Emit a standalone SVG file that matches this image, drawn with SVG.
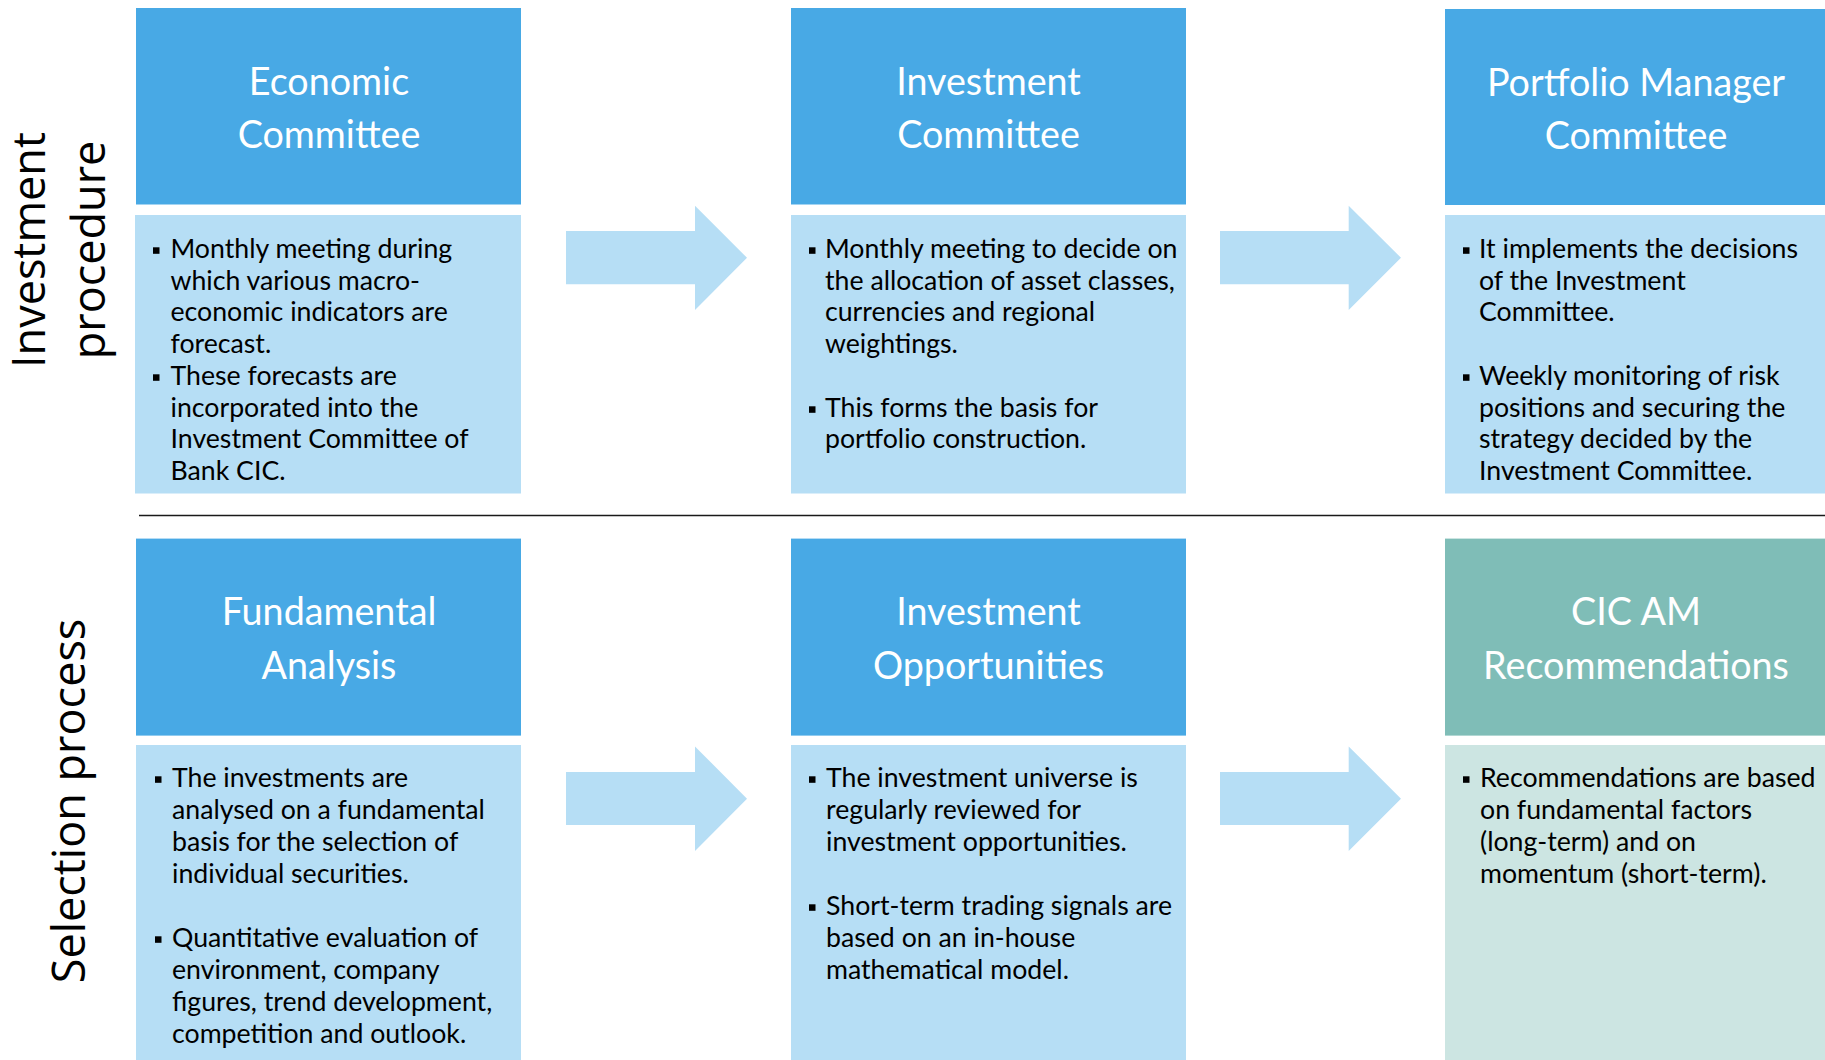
<svg xmlns="http://www.w3.org/2000/svg" width="1825" height="1060" viewBox="0 0 1825 1060">
<style>
.hdr{fill:#48A9E5}
.hdr2{fill:#7FBDB7}
.body{fill:#B6DEF5}
.body2{fill:#CCE5E2}
.ht{font-family:Lato,"Open Sans","Liberation Sans",sans-serif;font-size:37.7px;fill:#fff;text-anchor:middle}
.bt{font-family:Lato,"Open Sans","Liberation Sans",sans-serif;font-size:26.7px;fill:#000}
.vt{font-family:"Open Sans","Liberation Sans",sans-serif;font-size:45px;fill:#000;text-anchor:middle}
.arrow{fill:#B6DEF5}
.bul{fill:#000}
</style>
<rect width="1825" height="1060" fill="#fff"/>

<g id="label-investment-procedure">
<text class="vt" transform="translate(45,250) rotate(-90)">Investment</text>
<text class="vt" transform="translate(105,250) rotate(-90)">procedure</text>
</g>
<g id="label-selection-process">
<text class="vt" transform="translate(85,801) rotate(-90)">Selection process</text>
</g>

<line id="separator" x1="139" y1="515.5" x2="1825" y2="515.5" stroke="#1a1a1a" stroke-width="1.6"/>

<g id="connectors">
<polygon class="arrow" points="566,231 695,231 695,205.7 747,257.8 695,310 695,284.3 566,284.3"/>
<polygon class="arrow" points="1220,231 1348.7,231 1348.7,205.7 1401,257.8 1348.7,310 1348.7,284.3 1220,284.3"/>
<polygon class="arrow" points="566,772 695,772 695,746.4 747,798.7 695,851 695,825 566,825"/>
<polygon class="arrow" points="1220,772 1348.7,772 1348.7,746.4 1401,798.7 1348.7,851 1348.7,825 1220,825"/>
</g>

<g id="economic-committee">
<rect class="hdr" x="136" y="8" width="385" height="196.5"/>
<rect class="body" x="135" y="215" width="386" height="278.5"/>
<text class="ht"><tspan x="329" y="94.5">Economic</tspan><tspan x="329" y="148">Committee</tspan></text>
<rect class="bul" x="153" y="247.3" width="6.5" height="6.5"/>
<rect class="bul" x="153" y="374.3" width="6.5" height="6.5"/>
<text class="bt">
<tspan x="170.5" y="257.8">Monthly meeting during</tspan>
<tspan x="170.5" y="289.5">which various macro-</tspan>
<tspan x="170.5" y="321.3">economic indicators are</tspan>
<tspan x="170.5" y="353">forecast.</tspan>
<tspan x="170.5" y="384.8">These forecasts are</tspan>
<tspan x="170.5" y="416.5">incorporated into the</tspan>
<tspan x="170.5" y="448.3">Investment Committee of</tspan>
<tspan x="170.5" y="480">Bank CIC.</tspan>
</text>
</g>

<g id="investment-committee">
<rect class="hdr" x="791" y="8" width="395" height="196.5"/>
<rect class="body" x="791" y="215" width="395" height="278.5"/>
<text class="ht"><tspan x="988.5" y="94.5">Investment</tspan><tspan x="988.5" y="148">Committee</tspan></text>
<rect class="bul" x="809" y="247.3" width="6.5" height="6.5"/>
<rect class="bul" x="809" y="406.3" width="6.5" height="6.5"/>
<text class="bt">
<tspan x="825" y="257.8">Monthly meeting to decide on</tspan>
<tspan x="825" y="289.5">the allocation of asset classes,</tspan>
<tspan x="825" y="321.3">currencies and regional</tspan>
<tspan x="825" y="353">weightings.</tspan>
<tspan x="825" y="416.5">This forms the basis for</tspan>
<tspan x="825" y="448.3">portfolio construction.</tspan>
</text>
</g>

<g id="portfolio-manager-committee">
<rect class="hdr" x="1445" y="9" width="380" height="196"/>
<rect class="body" x="1445" y="215" width="380" height="278.5"/>
<text class="ht"><tspan x="1636" y="96">Portfolio Manager</tspan><tspan x="1636" y="148.5">Committee</tspan></text>
<rect class="bul" x="1463" y="247.3" width="6.5" height="6.5"/>
<rect class="bul" x="1463" y="374.3" width="6.5" height="6.5"/>
<text class="bt">
<tspan x="1479" y="257.8">It implements the decisions</tspan>
<tspan x="1479" y="289.5">of the Investment</tspan>
<tspan x="1479" y="321.3">Committee.</tspan>
<tspan x="1479" y="384.8">Weekly monitoring of risk</tspan>
<tspan x="1479" y="416.5">positions and securing the</tspan>
<tspan x="1479" y="448.3">strategy decided by the</tspan>
<tspan x="1479" y="480">Investment Committee.</tspan>
</text>
</g>

<g id="fundamental-analysis">
<rect class="hdr" x="136" y="538.6" width="385" height="197"/>
<rect class="body" x="136" y="745" width="385" height="315"/>
<text class="ht"><tspan x="329" y="625">Fundamental</tspan><tspan x="329" y="678.6">Analysis</tspan></text>
<rect class="bul" x="155" y="776.3" width="6.5" height="6.5"/>
<rect class="bul" x="155" y="936.3" width="6.5" height="6.5"/>
<text class="bt">
<tspan x="172" y="786.8">The investments are</tspan>
<tspan x="172" y="818.8">analysed on a fundamental</tspan>
<tspan x="172" y="850.8">basis for the selection of</tspan>
<tspan x="172" y="882.8">individual securities.</tspan>
<tspan x="172" y="946.8">Quantitative evaluation of</tspan>
<tspan x="172" y="978.8">environment, company</tspan>
<tspan x="172" y="1010.8">figures, trend development,</tspan>
<tspan x="172" y="1042.8">competition and outlook.</tspan>
</text>
</g>

<g id="investment-opportunities">
<rect class="hdr" x="791" y="538.6" width="395" height="197"/>
<rect class="body" x="791" y="745" width="395" height="315"/>
<text class="ht"><tspan x="988.5" y="625">Investment</tspan><tspan x="988.5" y="678.6">Opportunities</tspan></text>
<rect class="bul" x="809" y="776.3" width="6.5" height="6.5"/>
<rect class="bul" x="809" y="904.3" width="6.5" height="6.5"/>
<text class="bt">
<tspan x="826" y="786.8">The investment universe is</tspan>
<tspan x="826" y="818.8">regularly reviewed for</tspan>
<tspan x="826" y="850.8">investment opportunities.</tspan>
<tspan x="826" y="914.8">Short-term trading signals are</tspan>
<tspan x="826" y="946.8">based on an in-house</tspan>
<tspan x="826" y="978.8">mathematical model.</tspan>
</text>
</g>

<g id="cic-am-recommendations">
<rect class="hdr2" x="1445" y="538.6" width="380" height="197"/>
<rect class="body2" x="1445" y="745" width="380" height="315"/>
<text class="ht"><tspan x="1636" y="625">CIC AM</tspan><tspan x="1636" y="678.6">Recommendations</tspan></text>
<rect class="bul" x="1463" y="776.3" width="6.5" height="6.5"/>
<text class="bt">
<tspan x="1480" y="786.8">Recommendations are based</tspan>
<tspan x="1480" y="818.8">on fundamental factors</tspan>
<tspan x="1480" y="850.8">(long-term) and on</tspan>
<tspan x="1480" y="882.8">momentum (short-term).</tspan>
</text>
</g>
</svg>
